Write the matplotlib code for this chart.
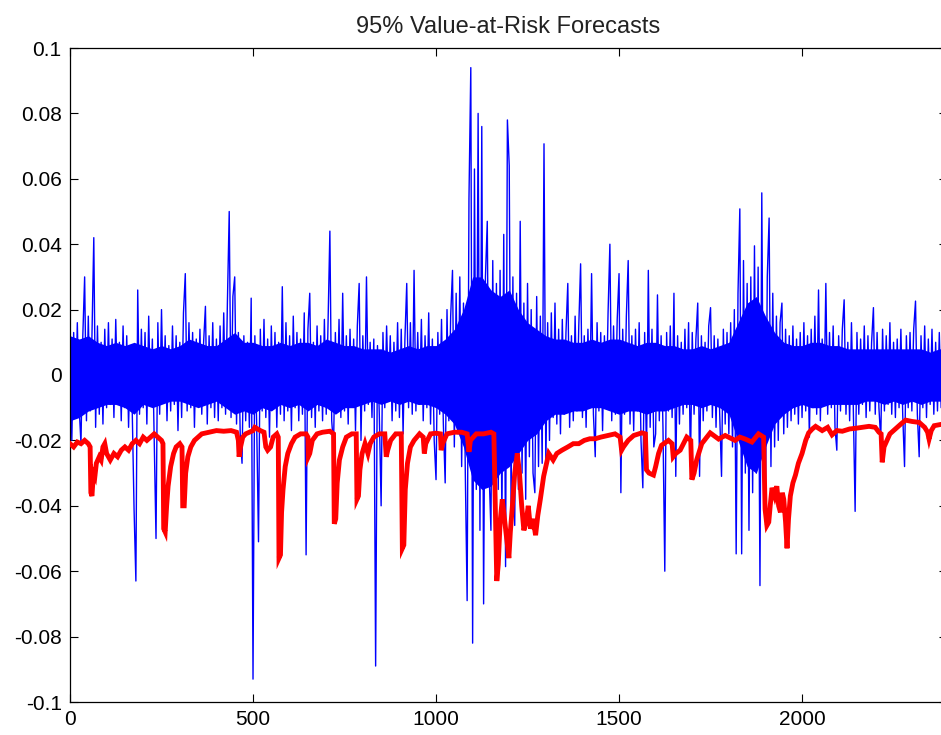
import numpy as np
import matplotlib
matplotlib.use("Agg")
import matplotlib.pyplot as plt

ret_step = 5
returns = [
    0.015, -0.020, 0.013, -0.012, 0.016, -0.010, -0.021, 0.012, 0.030, -0.014, 0.018, -0.011, 0.012, 0.042, -0.016, 0.015, -0.012, 0.010, -0.015, 0.014,
    -0.010, 0.016, -0.009, 0.011, -0.013, 0.017, -0.008, 0.010, -0.014, 0.015, -0.010, 0.012, -0.016, 0.009, -0.011, -0.041, -0.063, 0.026, -0.012, 0.014,
    -0.010, 0.013, -0.015, 0.018, -0.009, 0.011, -0.020, -0.050, 0.016, -0.012, 0.020, -0.008, 0.012, -0.014, 0.009, -0.011, 0.015, -0.009, 0.012, -0.017,
    0.010, -0.013, 0.019, 0.031, -0.011, 0.016, -0.010, 0.013, -0.016, 0.011, -0.009, 0.014, -0.012, 0.010, 0.021, -0.015, 0.012, -0.010, 0.016, -0.013,
    0.011, -0.014, 0.015, -0.010, 0.019, -0.012, 0.022, 0.050, -0.013, 0.024, 0.030, -0.015, 0.013, -0.018, -0.027, 0.012, -0.014, 0.010, -0.016, 0.0235,
    -0.093, 0.012, -0.015, -0.051, 0.014, -0.011, 0.017, -0.013, 0.011, -0.019, 0.015, -0.010, 0.013, -0.016, 0.010, -0.012, 0.027, -0.014, 0.016, -0.011,
    0.012, -0.017, 0.018, -0.010, 0.013, -0.014, 0.011, -0.012, 0.019, -0.055, 0.014, 0.025, -0.013, 0.010, -0.016, 0.015, -0.011, 0.012, -0.014, 0.017,
    -0.012, 0.016, 0.044, -0.014, -0.022, 0.013, -0.010, 0.017, -0.013, 0.025, -0.011, 0.012, -0.015, 0.014, -0.009, 0.011, -0.017, 0.015, 0.028, -0.020,
    0.012, -0.011, 0.030, -0.009, 0.010, -0.013, 0.011, -0.089, 0.009, -0.012, -0.040, 0.013, -0.010, 0.015, -0.008, 0.012, -0.014, 0.010, -0.011, 0.016,
    -0.013, 0.014, -0.018, 0.011, 0.028, -0.010, 0.016, -0.012, 0.032, -0.011, 0.013, -0.009, 0.017, -0.014, 0.012, -0.010, 0.019, -0.015, 0.011, -0.020,
    -0.032, 0.013, -0.012, 0.017, -0.015, -0.033, 0.020, -0.014, 0.018, 0.032, -0.022, 0.025, -0.018, 0.030, -0.028, 0.022, -0.030, -0.069, 0.054, 0.094,
    -0.082, 0.063, -0.035, 0.080, -0.0475, 0.076, -0.070, 0.030, 0.047, -0.030, -0.0475, 0.035, -0.040, 0.028, -0.035, 0.032, -0.045, 0.043, -0.0586, 0.078,
    0.064, -0.040, 0.030, -0.046, 0.025, -0.035, 0.047, -0.030, 0.022, -0.038, 0.028, -0.025, 0.020, -0.030, -0.036, 0.024, -0.028, 0.018, -0.027, 0.0707,
    -0.028, 0.016, -0.020, 0.019, -0.013, 0.022, -0.015, 0.014, -0.018, 0.017, -0.012, 0.013, 0.028, -0.016, 0.012, -0.014, 0.018, -0.011, 0.015, 0.034,
    -0.013, 0.012, -0.016, 0.014, -0.010, 0.031, -0.012, -0.025, 0.016, -0.011, 0.013, -0.017, 0.012, -0.010, 0.019, 0.040, -0.014, 0.015, -0.012, 0.017,
    0.031, -0.036, 0.014, -0.012, 0.018, 0.035, -0.015, 0.012, -0.017, 0.014, -0.011, 0.016, -0.020, -0.0345, 0.013, -0.025, 0.032, -0.016, 0.014, -0.022,
    -0.018, 0.0245, -0.014, 0.012, -0.016, -0.060, 0.013, -0.011, 0.015, -0.013, 0.025, -0.031, 0.012, -0.015, 0.010, -0.012, 0.014, -0.010, 0.016, -0.028,
    0.013, -0.012, 0.011, 0.022, -0.031, 0.012, -0.014, 0.010, -0.011, 0.015, 0.0206, -0.013, 0.012, -0.016, 0.011, -0.012, -0.031, 0.014, -0.015, 0.013,
    -0.018, 0.016, -0.022, 0.020, -0.0547, 0.025, 0.0508, -0.0547, 0.035, -0.030, 0.028, -0.0475, 0.030, -0.036, 0.0395, -0.030, 0.033, -0.0644, 0.0557, -0.035,
    -0.041, 0.030, 0.048, -0.028, 0.025, -0.022, 0.018, -0.020, 0.016, 0.022, -0.018, 0.014, -0.016, 0.012, -0.014, 0.015, -0.012, 0.011, -0.015, 0.013,
    -0.013, 0.016, -0.011, 0.012, -0.019, 0.014, -0.010, 0.018, -0.012, 0.026, -0.014, 0.011, -0.009, 0.028, -0.012, 0.013, -0.010, 0.015, -0.016, -0.023,
    0.012, -0.011, 0.014, 0.023, -0.012, 0.010, -0.014, 0.016, -0.010, -0.0417, 0.013, -0.012, 0.011, -0.009, 0.015, -0.013, 0.012, -0.011, 0.010, 0.0206,
    -0.012, 0.013, -0.010, -0.020, 0.014, -0.011, 0.012, -0.009, 0.016, -0.012, 0.010, -0.013, 0.011, -0.010, 0.014, -0.012, -0.028, 0.012, -0.010, 0.013,
    -0.011, 0.014, 0.0226, -0.012, -0.025, 0.012, -0.010, 0.015, -0.013, 0.011, -0.009, 0.014, -0.012, 0.010, -0.011, 0.013, -0.010, 0.012,
]

# dense core of the return series (solid blue band), read every 25 obs
core_step = 25
core_hi = [0.012, 0.011, 0.012, 0.010, 0.009, 0.010, 0.009, 0.010, 0.009, 0.008, 0.009, 0.008, 0.009, 0.011, 0.010, 0.009,
           0.009, 0.011, 0.013, 0.010, 0.010, 0.009, 0.009, 0.010, 0.009, 0.010, 0.010, 0.009, 0.011, 0.010, 0.009, 0.009,
           0.008, 0.008, 0.008, 0.007, 0.008, 0.009, 0.008, 0.009, 0.009, 0.011, 0.014, 0.020, 0.030, 0.030, 0.026, 0.024,
           0.026, 0.020, 0.016, 0.014, 0.012, 0.011, 0.011, 0.010, 0.010, 0.011, 0.010, 0.011, 0.011, 0.010, 0.009, 0.010,
           0.010, 0.009, 0.009, 0.008, 0.008, 0.009, 0.008, 0.009, 0.010, 0.016, 0.022, 0.024, 0.018, 0.013, 0.010, 0.009,
           0.009, 0.010, 0.010, 0.009, 0.009, 0.008, 0.008, 0.008, 0.008, 0.008, 0.008, 0.008, 0.008, 0.008, 0.007, 0.008, 0.008]
core_lo = [-0.014, -0.013, -0.011, -0.010, -0.009, -0.009, -0.010, -0.012, -0.009, -0.010, -0.009, -0.008, -0.008, -0.009,
           -0.010, -0.009, -0.008, -0.010, -0.012, -0.011, -0.012, -0.010, -0.011, -0.009, -0.010, -0.009, -0.011, -0.009,
           -0.010, -0.012, -0.010, -0.010, -0.009, -0.008, -0.009, -0.008, -0.009, -0.008, -0.009, -0.009, -0.010, -0.012,
           -0.015, -0.022, -0.032, -0.035, -0.034, -0.030, -0.028, -0.024, -0.020, -0.018, -0.014, -0.012, -0.012, -0.011,
           -0.011, -0.010, -0.010, -0.011, -0.012, -0.011, -0.011, -0.012, -0.011, -0.011, -0.010, -0.009, -0.009, -0.010,
           -0.009, -0.010, -0.012, -0.020, -0.028, -0.030, -0.022, -0.015, -0.012, -0.010, -0.009, -0.010, -0.010, -0.009,
           -0.009, -0.009, -0.009, -0.008, -0.008, -0.009, -0.008, -0.009, -0.008, -0.009, -0.008, -0.008, -0.008]

var_t = [0, 10, 20, 30, 40, 50, 55, 57, 60, 64, 68, 72, 80, 85, 90, 95, 100, 110, 120, 130, 140, 150, 160, 170, 180, 190,
         200, 210, 220, 230, 240, 250, 254, 256, 260, 264, 268, 275, 283, 290, 300, 306, 308, 312, 316, 322, 330, 340, 350,
         360, 380, 400, 420, 440, 455, 460, 462, 466, 472, 480, 500, 505, 520, 530, 535, 540, 548, 555, 565, 569, 571, 575,
         578, 582, 588, 595, 605, 615, 630, 645, 650, 651, 655, 662, 675, 690, 710, 720, 722, 726, 730, 736, 745, 755, 770,
         782, 784, 788, 792, 798, 806, 814, 820, 830, 845, 860, 864, 868, 876, 890, 905, 908, 912, 916, 922, 930, 940, 955,
         965, 968, 972, 985, 1000, 1012, 1014, 1018, 1030, 1050, 1070, 1085, 1090, 1094, 1110, 1130, 1150, 1158,
         1162, 1166, 1170, 1175, 1181, 1188, 1195, 1199, 1203, 1208, 1215, 1222, 1228, 1234, 1240, 1246, 1252, 1258, 1265,
         1272, 1278, 1285, 1294, 1300, 1308, 1320, 1330, 1344, 1360, 1375, 1390, 1405, 1420, 1435, 1450, 1470, 1489, 1503,
         1507, 1512, 1525, 1540, 1562, 1572, 1575, 1582, 1594, 1600, 1608, 1616, 1635, 1645, 1648, 1655, 1667, 1685, 1696,
         1699, 1705, 1712, 1726, 1749, 1772, 1790, 1817, 1830, 1845, 1863, 1881, 1895, 1899, 1904, 1909, 1913, 1918, 1925,
         1931, 1936, 1941, 1946, 1950, 1955, 1959, 1963, 1968, 1975, 1982, 1990, 2000, 2010, 2018, 2028, 2037, 2055, 2070,
         2082, 2095, 2110, 2130, 2146, 2165, 2183, 2200, 2210, 2216, 2219, 2224, 2228, 2240, 2256, 2270, 2283, 2300, 2320,
         2335, 2343, 2347, 2353, 2361, 2375, 2385]
var_v = [-0.021, -0.022, -0.0205, -0.021, -0.020, -0.021, -0.022, -0.036, -0.037, -0.030, -0.031, -0.027, -0.025, -0.026, -0.022, -0.021,
         -0.024, -0.026, -0.024, -0.025, -0.023, -0.022, -0.023, -0.021, -0.020, -0.021,
         -0.019, -0.020, -0.019, -0.018, -0.019, -0.020, -0.021, -0.047, -0.048, -0.040, -0.034, -0.028, -0.024, -0.022, -0.021, -0.022,
         -0.040, -0.040, -0.030, -0.025, -0.022, -0.020, -0.019,
         -0.018, -0.0175, -0.017, -0.0172, -0.017, -0.0175, -0.020, -0.025, -0.022, -0.019, -0.018, -0.017, -0.016, -0.017, -0.0175,
         -0.022, -0.023, -0.022, -0.019, -0.018, -0.019, -0.056, -0.055,
         -0.042, -0.035, -0.028, -0.024, -0.021, -0.019, -0.018, -0.018, -0.019, -0.025, -0.024, -0.020, -0.018, -0.0175, -0.0172,
         -0.018, -0.0455, -0.044, -0.033, -0.026, -0.022, -0.019, -0.018,
         -0.018, -0.038, -0.037, -0.029, -0.024, -0.021, -0.024, -0.021, -0.019, -0.018, -0.018, -0.025, -0.023, -0.020, -0.018,
         -0.018, -0.053, -0.052, -0.035, -0.027, -0.022, -0.020, -0.018,
         -0.019, -0.024, -0.021, -0.018, -0.0178, -0.018, -0.023, -0.021, -0.018, -0.0175, -0.0175, -0.018, -0.0235, -0.020, -0.018,
         -0.018, -0.0175, -0.018,
         -0.040, -0.063, -0.058, -0.045, -0.038, -0.045, -0.052, -0.056, -0.048, -0.041, -0.030, -0.024, -0.030, -0.040, -0.0475,
         -0.045, -0.040, -0.047, -0.044,
         -0.049, -0.043, -0.038, -0.031, -0.028, -0.024, -0.026, -0.024, -0.023, -0.022, -0.021, -0.021, -0.020, -0.0195, -0.0195,
         -0.019, -0.0185, -0.018, -0.019,
         -0.023, -0.022, -0.020, -0.0185, -0.0177, -0.018, -0.029, -0.030, -0.0306, -0.028, -0.024, -0.0215, -0.020, -0.021, -0.025,
         -0.024, -0.023, -0.019, -0.020,
         -0.032, -0.030, -0.026, -0.021, -0.0177, -0.0196, -0.0185, -0.020, -0.019, -0.0196, -0.0205, -0.018, -0.019, -0.041, -0.046,
         -0.045, -0.040, -0.0345, -0.037,
         -0.034, -0.040, -0.042, -0.036, -0.038, -0.045, -0.053, -0.044, -0.037, -0.033, -0.0306, -0.027, -0.024, -0.020, -0.0177,
         -0.0165, -0.0157, -0.017, -0.016,
         -0.0183, -0.017, -0.0172, -0.0165, -0.0163, -0.016, -0.0157, -0.016, -0.0175, -0.018, -0.0267, -0.022, -0.021, -0.018,
         -0.0164, -0.015, -0.0138, -0.0142, -0.0145,
         -0.016, -0.0175, -0.0196, -0.017, -0.0155, -0.0152, -0.015]

title = "95% Value-at-Risk Forecasts"
xticks = [0, 500, 1000, 1500, 2000]
yticks = [-0.1, -0.08, -0.06, -0.04, -0.02, 0, 0.02, 0.04, 0.06, 0.08, 0.1]
ytick_labels = ["-0.1", "-0.08", "-0.06", "-0.04", "-0.02", "0", "0.02", "0.04", "0.06", "0.08", "0.1"]

# ---- figure ----
plt.rcParams['font.family'] = ['Liberation Sans', 'DejaVu Sans']
fig = plt.figure(figsize=(9.41, 7.35), dpi=100)
ax = fig.add_axes([70 / 941, 33 / 735, 877 / 941, 654 / 735])

blue = (0, 0, 1)
core_t = np.arange(len(core_hi)) * core_step
ax.fill_between(core_t, core_lo, core_hi, color=blue, lw=0, zorder=2)
ret_t = np.arange(len(returns)) * ret_step
ax.plot(ret_t, returns, color=blue, lw=1.0, zorder=2)
ax.plot(var_t, var_v, color=(1, 0, 0), lw=3.5, zorder=3, solid_joinstyle='miter')

ax.set_xlim(0, 2396)
ax.set_ylim(-0.1, 0.1)
ax.set_xticks(xticks)
ax.set_xticklabels([str(x) for x in xticks])
ax.set_yticks(yticks)
ax.set_yticklabels(ytick_labels)
ax.tick_params(direction='in', length=6, width=0.8, top=True, right=True,
               labelsize=15, colors='black', pad=6)
for s in ax.spines.values():
    s.set_linewidth(0.9)
ax.set_title(title, fontsize=17, pad=11, color='#222222')

fig.savefig("out.png", dpi=100)
